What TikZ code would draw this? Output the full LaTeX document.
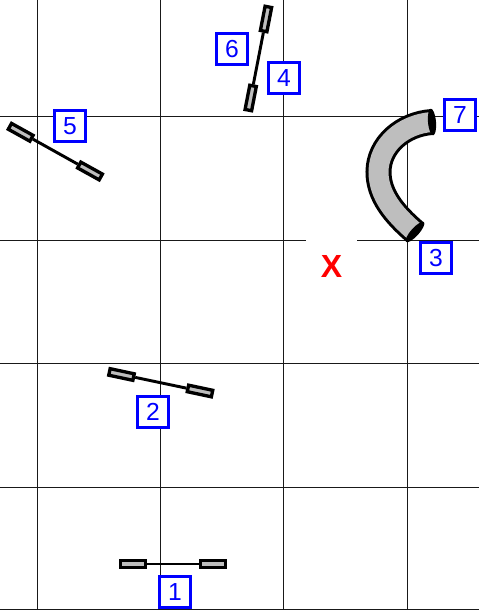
\documentclass[tikz,border=0pt]{standalone}
\usepackage{fontspec}
\setmainfont{Liberation Sans}
\definecolor{tagblue}{RGB}{0, 0, 255}
\definecolor{markred}{RGB}{255, 0, 0}
\definecolor{padgray}{RGB}{190, 190, 190}
\usetikzlibrary{shapes.geometric, positioning}

\begin{document}
\begin{tikzpicture}[
  x=0.75pt, y=-0.75pt,
  gridline/.style={draw=black!90, line width=0.75pt},
  tagbox/.style={draw=tagblue, fill=white, line width=2.5pt, text=tagblue, minimum size=23.5pt, inner sep=0pt, font=\fontsize{18.5}{20}\selectfont},
  padbox/.style={draw=black, fill=padgray, line width=2.5pt, minimum width=18.5pt, minimum height=5pt, inner sep=0pt},
  rodline/.style={draw=black, line width=2.2pt},
  bendcap/.style={ellipse, fill=black, minimum width=6pt, minimum height=20pt, inner sep=0pt}
]
  \useasboundingbox (0,0) rectangle (479,610);

  % background grid
  \foreach \gx in {37,160,283,407} {
    \draw[gridline] (\gx,0) -- (\gx,609);
  }
  \foreach \gy in {116,240,363,487,609} {
    \draw[gridline] (0,\gy) -- (479,\gy);
  }

  % target mark, its white box cuts the grid line
  \node[fill=white, minimum width=38.25pt, minimum height=39pt, inner sep=0pt, text=markred, font=\fontsize{24}{28}\selectfont\bfseries] (markx) at (331.5,266) {X};

  % straight pieces
  \node[padbox] (padAleft) at (133,564) {};
  \node[padbox] (padAright) at (213,564) {};
  \draw[rodline] (padAleft) -- (padAright);

  \node[padbox, rotate=-12] (padBleft) at (121.5,374.5) {};
  \node[padbox, rotate=-12] (padBright) at (200,391) {};
  \draw[rodline] (padBleft) -- (padBright);

  \node[padbox, rotate=79] (padCtop) at (266,19) {};
  \node[padbox, rotate=79] (padCbottom) at (250.7,98) {};
  \draw[rodline] (padCtop) -- (padCbottom);

  \node[padbox, rotate=-29] (padDleft) at (20.7,132.3) {};
  \node[padbox, rotate=-29] (padDright) at (90,171) {};
  \draw[rodline] (padDleft) -- (padDright);

  % bent piece
  \draw[black, line width=19.5pt] (432,122) .. controls (403,124) and (378.5,145) .. (378.5,172) .. controls (378.5,195) and (394,214) .. (415,232);
  \draw[padgray, line width=15pt] (432,122) .. controls (403,124) and (378.5,145) .. (378.5,172) .. controls (378.5,195) and (394,214) .. (415,232);
  \node[bendcap, rotate=5] (bendtop) at (432,122) {};
  \node[bendcap, rotate=138] (bendbottom) at (415,232) {};

  % number tags
  \node[tagbox] (tag1) at (175,592) {1};
  \node[tagbox] (tag2) at (153,412) {2};
  \node[tagbox] (tag3) at (436,258) {3};
  \node[tagbox] (tag4) at (284,78) {4};
  \node[tagbox] (tag5) at (70,126) {5};
  \node[tagbox] (tag6) at (232,49) {6};
  \node[tagbox] (tag7) at (460,115) {7};
\end{tikzpicture}
\end{document}
